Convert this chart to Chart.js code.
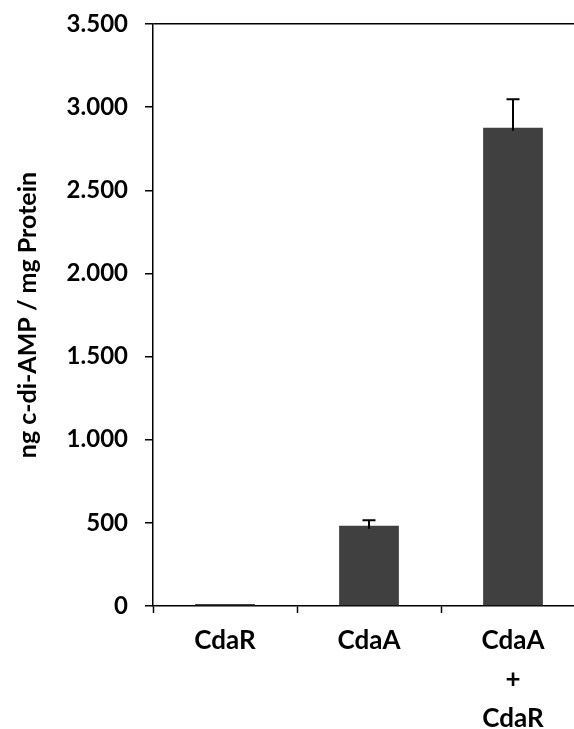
<!DOCTYPE html>
<html>
<head>
<meta charset="utf-8">
<script src="https://cdn.jsdelivr.net/npm/chart.js@4.4.1/dist/chart.umd.min.js"></script>
<style>
  html, body { margin: 0; padding: 0; background: #fff; overflow: hidden; width: 574px; height: 729px; }
  #wrap { width: 600px; height: 729px; }
</style>
</head>
<body>
<div id="wrap"><canvas id="c" width="600" height="729"></canvas></div>
<script>
const categories = [['CdaR'], ['CdaA'], ['CdaA', '+', 'CdaR']];
const values = [12, 483, 2876];
const errors = [0, 32, 171];
const yTickLabels = ['0', '500', '1.000', '1.500', '2.000', '2.500', '3.000', '3.500'];
const yTickValues = [0, 500, 1000, 1500, 2000, 2500, 3000, 3500];
const yTitle = 'ng c-di-AMP / mg Protein';

const errorBarPlugin = {
  id: 'errorBars',
  afterDatasetsDraw(chart) {
    const ctx = chart.ctx;
    const meta = chart.getDatasetMeta(0);
    const y = chart.scales.y;
    ctx.save();
    ctx.strokeStyle = '#000';
    ctx.lineWidth = 2;
    meta.data.forEach((bar, i) => {
      if (!errors[i]) return;
      const x = bar.x;
      const yv = y.getPixelForValue(values[i]);
      const yt = y.getPixelForValue(values[i] + errors[i]);
      ctx.beginPath();
      ctx.moveTo(x, yv + 3);
      ctx.lineTo(x, yt);
      ctx.moveTo(x - 6.5, yt);
      ctx.lineTo(x + 6.5, yt);
      ctx.stroke();
    });
    ctx.restore();
  }
};

new Chart(document.getElementById('c'), {
  type: 'bar',
  data: {
    labels: categories,
    datasets: [{
      data: values,
      backgroundColor: '#404040',
      borderWidth: 0,
      categoryPercentage: 1,
      barPercentage: 0.415
    }]
  },
  options: {
    responsive: false,
    animation: false,
    devicePixelRatio: 1,
    layout: { padding: { top: 24, right: 15, left: 0, bottom: 0 } },
    plugins: { legend: { display: false }, tooltip: { enabled: false } },
    scales: {
      x: {
        offset: true,
        afterFit: s => { s.height = 123; s.paddingLeft = 0; s.paddingRight = 0; },
        grid: {
          offset: true,
          drawOnChartArea: false,
          drawTicks: true,
          tickLength: 7,
          tickColor: '#000',
          tickWidth: 1.5
        },
        border: { display: true, color: '#000', width: 1.5 },
        ticks: {
          color: '#000',
          padding: 8,
          maxRotation: 0,
          autoSkip: false,
          font: { family: 'Lato', weight: 'bold', size: 26, lineHeight: 1.5 }
        }
      },
      y: {
        min: 0,
        max: 3500,
        afterFit: s => { s.width = 153; s.paddingTop = 0; s.paddingBottom = 0; },
        afterBuildTicks: s => { s.ticks = yTickValues.map(v => ({ value: v })); },
        grid: {
          drawOnChartArea: true,
          drawTicks: true,
          tickLength: 8,
          tickColor: '#000',
          tickWidth: 1.5,
          lineWidth: 1.5,
          color: c => (c.tick && c.tick.value === 3500) ? '#000' : 'rgba(0,0,0,0)'
        },
        border: { display: true, color: '#000', width: 1.5 },
        ticks: {
          color: '#000',
          padding: 17,
          font: { family: 'Lato', weight: 'bold', size: 24 },
          callback: (v, i) => yTickLabels[yTickValues.indexOf(v)]
        },
        title: {
          display: true,
          text: yTitle,
          color: '#000',
          padding: { top: 13, bottom: 0 },
          font: { family: 'Lato', weight: 'bold', size: 25, lineHeight: 1.2 }
        }
      }
    }
  },
  plugins: [errorBarPlugin]
});
</script>
</body>
</html>
